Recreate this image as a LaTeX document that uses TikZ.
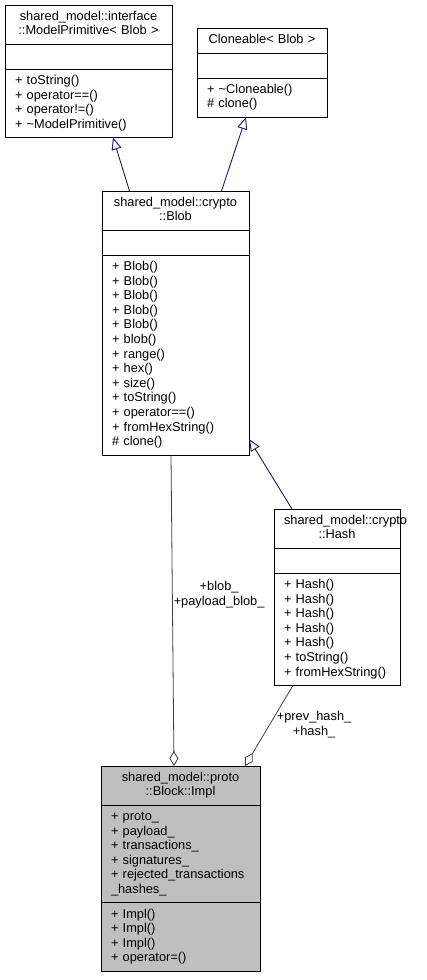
\documentclass[tikz,border=0pt]{standalone}
\usepackage{fontspec}
\setmainfont{Liberation Sans}
\usetikzlibrary{arrows.meta, positioning, calc}
\definecolor{edgeblue}{HTML}{191970}
\definecolor{aggrgrey}{HTML}{404040}
\definecolor{implgrey}{HTML}{BFBFBF}
\newcommand{\umlClass}[8][white]{
%    \umlClass[fill]{name}{x}{y}{width}{title}{attributes}{methods}
    \pgfmathsetmacro{\partwidth}{#5-20}
    \node[umlpart, fill=#1, align=center, anchor=north west, text width=\partwidth pt] (#2T) at (#3,#4) {#6};
    \node[umlpart, fill=#1, align=left, text width=\partwidth pt, below=0pt of #2T] (#2A) {#7};
    \node[umlpart, fill=#1, align=left, text width=\partwidth pt, below=0pt of #2A] (#2M) {#8};
}

\begin{document}
\begin{tikzpicture}[x=1pt, y=-1pt,
		umlpart/.style = {draw=black, line width=1pt, outer sep=0pt,
					inner xsep=10pt, inner ysep=5pt,
					minimum height=25pt,
					font=\fontsize{12.8}{14.6}\selectfont,
					execute at begin node=\strut,
					execute at end node=\strut},
		inherit/.style = {draw=edgeblue, line width=0.9pt,
					-{Triangle[open, length=12pt, width=10pt, fill=white]}},
		aggr/.style = {draw=aggrgrey, line width=0.8pt,
					-{Diamond[open, length=15pt, width=9pt, fill=white]}},
		rolelabel/.style = {align=center, inner sep=1pt,
					font=\fontsize{12.8}{14.6}\selectfont}
                   ]

%Page size
    \useasboundingbox (0,0) rectangle (427,980);

%Classes
    \umlClass{mp}{5}{5}{167}{shared\_model::interface\\::ModelPrimitive< Blob >}{}%
        {+ toString()\\+ operator==()\\+ operator!=()\\+ \textasciitilde ModelPrimitive()}
    \umlClass{clone}{197}{28}{130}{Cloneable< Blob >}{}%
        {+ \textasciitilde Cloneable()\\\# clone()}
    \umlClass{blob}{102}{191}{147}{shared\_model::crypto\\::Blob}{}%
        {+ Blob()\\+ Blob()\\+ Blob()\\+ Blob()\\+ Blob()\\+ blob()\\+ range()\\+ hex()\\+ size()\\+ toString()\\+ operator==()\\+ fromHexString()\\\# clone()}
    \umlClass{hash}{274}{509}{126}{shared\_model::crypto\\::Hash}{}%
        {+ Hash()\\+ Hash()\\+ Hash()\\+ Hash()\\+ Hash()\\+ toString()\\+ fromHexString()}
    \umlClass[implgrey]{impl}{101}{766}{159}{shared\_model::proto\\::Block::Impl}%
        {+ proto\_\\+ payload\_\\+ transactions\_\\+ signatures\_\\+ rejected\_transactions\\\_hashes\_}%
        {+ Impl()\\+ Impl()\\+ Impl()\\+ operator=()}

%Inheritance
	\draw[inherit] ([xshift=-46pt]blobT.north) -- ([xshift=24.5pt]mpM.south);
	\draw[inherit] ([xshift=46pt]blobT.north) -- ([xshift=-16pt]cloneM.south);
	\draw[inherit] ([xshift=-45pt]hashT.north) -- ([yshift=16pt]blobM.south east);

%Aggregation
	\draw[aggr] ([xshift=-4.5pt]blobM.south) -- node[rolelabel, pos=0.45, right] (blobrole) {+blob\_\\+payload\_blob\_} ([xshift=-6.5pt]implT.north);
	\draw[aggr] ([xshift=-44pt]hashM.south) -- node[rolelabel, pos=0.49, right, xshift=6pt] (hashrole) {+prev\_hash\_\\+hash\_} ([xshift=64.5pt]implT.north);

\end{tikzpicture}
\end{document}
